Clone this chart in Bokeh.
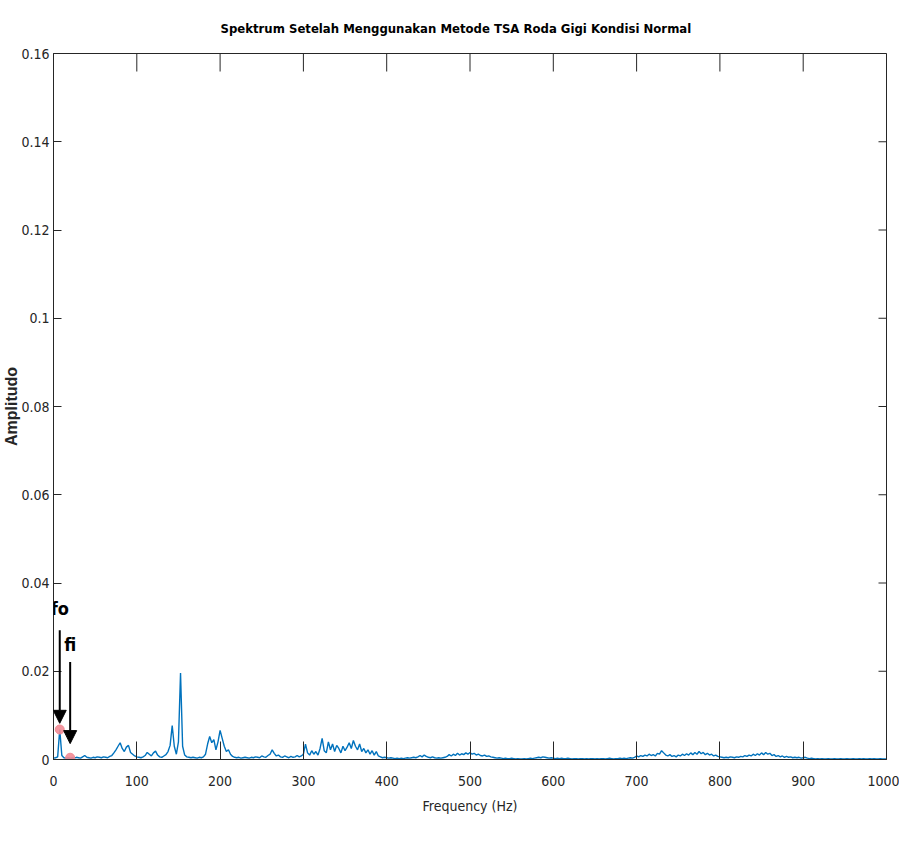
from bokeh.plotting import figure
from bokeh.models import Range1d, FixedTicker, Arrow, NormalHead, Label, ColumnDataSource
from bokeh.embed import file_html
from bokeh.resources import INLINE

# ---------------- data ----------------
freq_step = 2.5  # Hz, spectrum bin spacing

amp_000 = [0.0003, 0.0004, 0.0006, 0.0068, 0.0009, 0.0004, 0.0003, 0.0004, 0.0003, 0.0004,
           0.0003, 0.0005, 0.0004, 0.0003, 0.0006, 0.0009, 0.0005, 0.0004, 0.0003, 0.0005,
           0.0004, 0.0006, 0.0005, 0.0004, 0.0006, 0.0005, 0.0004, 0.0007, 0.0009, 0.0015,
           0.0022, 0.0030, 0.0038, 0.0025, 0.0018, 0.0028, 0.0032, 0.0016, 0.0012, 0.0008]
amp_100 = [0.0006, 0.0005, 0.0004, 0.0006, 0.0009, 0.0016, 0.0012, 0.0008, 0.0015, 0.0019,
           0.0010, 0.0006, 0.0005, 0.0008, 0.0011, 0.0018, 0.0032, 0.0077, 0.0030, 0.0012,
           0.0040, 0.0196, 0.0030, 0.0010, 0.0006, 0.0005, 0.0004, 0.0005, 0.0004, 0.0003,
           0.0005, 0.0004, 0.0006, 0.0012, 0.0035, 0.0052, 0.0038, 0.0045, 0.0022, 0.0040]
amp_200 = [0.0066, 0.0048, 0.0030, 0.0018, 0.0022, 0.0012, 0.0007, 0.0005, 0.0004, 0.0005,
           0.0003, 0.0004, 0.0005, 0.0004, 0.0003, 0.0005, 0.0004, 0.0006, 0.0005, 0.0004,
           0.0008, 0.0006, 0.0005, 0.0009, 0.0012, 0.0022, 0.0014, 0.0008, 0.0010, 0.0006,
           0.0005, 0.0008, 0.0006, 0.0004, 0.0007, 0.0005, 0.0006, 0.0009, 0.0006, 0.0008]
amp_300 = [0.0012, 0.0035, 0.0015, 0.0010, 0.0020, 0.0012, 0.0018, 0.0010, 0.0025, 0.0048,
           0.0020, 0.0015, 0.0040, 0.0022, 0.0035, 0.0018, 0.0032, 0.0025, 0.0015, 0.0030,
           0.0020, 0.0028, 0.0038, 0.0025, 0.0043, 0.0030, 0.0022, 0.0035, 0.0018, 0.0025,
           0.0015, 0.0022, 0.0012, 0.0020, 0.0010, 0.0018, 0.0008, 0.0006, 0.0004, 0.0005]
amp_400 = [0.0004, 0.0003, 0.0004, 0.0003, 0.0002, 0.0003, 0.0002, 0.0003, 0.0002, 0.0003,
           0.0004, 0.0003, 0.0004, 0.0005, 0.0004, 0.0006, 0.0009, 0.0006, 0.0010, 0.0007,
           0.0005, 0.0004, 0.0006, 0.0004, 0.0003, 0.0004, 0.0003, 0.0004, 0.0005, 0.0007,
           0.0011, 0.0008, 0.0012, 0.0009, 0.0014, 0.0010, 0.0013, 0.0011, 0.0015, 0.0012]
amp_500 = [0.0016, 0.0012, 0.0014, 0.0010, 0.0012, 0.0009, 0.0008, 0.0010, 0.0007, 0.0008,
           0.0006, 0.0005, 0.0004, 0.0003, 0.0004, 0.0003, 0.0002, 0.0003, 0.0002, 0.0002,
           0.0003, 0.0002, 0.0001, 0.0002, 0.0001, 0.0001, 0.0002, 0.0001, 0.0002, 0.0003,
           0.0002, 0.0003, 0.0004, 0.0005, 0.0004, 0.0006, 0.0005, 0.0004, 0.0003, 0.0004]
amp_600 = [0.0003, 0.0002, 0.0003, 0.0002, 0.0003, 0.0002, 0.0002, 0.0003, 0.0002, 0.0001,
           0.0002, 0.0002, 0.0001, 0.0002, 0.0002, 0.0001, 0.0002, 0.0001, 0.0002, 0.0002,
           0.0001, 0.0002, 0.0001, 0.0002, 0.0002, 0.0001, 0.0002, 0.0003, 0.0002, 0.0001,
           0.0002, 0.0002, 0.0003, 0.0002, 0.0003, 0.0002, 0.0003, 0.0004, 0.0003, 0.0005]
amp_700 = [0.0008, 0.0006, 0.0009, 0.0007, 0.0010, 0.0008, 0.0012, 0.0009, 0.0011, 0.0008,
           0.0014, 0.0012, 0.0020, 0.0015, 0.0010, 0.0008, 0.0011, 0.0007, 0.0009, 0.0006,
           0.0010, 0.0008, 0.0012, 0.0009, 0.0013, 0.0010, 0.0015, 0.0011, 0.0016, 0.0012,
           0.0018, 0.0013, 0.0016, 0.0011, 0.0014, 0.0010, 0.0012, 0.0008, 0.0010, 0.0007]
amp_800 = [0.0006, 0.0005, 0.0004, 0.0005, 0.0004, 0.0006, 0.0005, 0.0004, 0.0006, 0.0005,
           0.0007, 0.0006, 0.0009, 0.0007, 0.0010, 0.0008, 0.0012, 0.0009, 0.0013, 0.0010,
           0.0015, 0.0011, 0.0016, 0.0012, 0.0014, 0.0009, 0.0011, 0.0007, 0.0009, 0.0006,
           0.0008, 0.0005, 0.0007, 0.0005, 0.0006, 0.0004, 0.0005, 0.0004, 0.0005, 0.0003]
amp_900 = [0.0004, 0.0005, 0.0003, 0.0002, 0.0003, 0.0002, 0.0001, 0.0002, 0.0001, 0.0002,
           0.0001, 0.0001, 0.0002, 0.0001, 0.0001, 0.0002, 0.0001, 0.0001, 0.0002, 0.0001,
           0.0001, 0.0002, 0.0001, 0.0001, 0.0002, 0.0001, 0.0001, 0.0002, 0.0001, 0.0002,
           0.0001, 0.0001, 0.0002, 0.0001, 0.0002, 0.0001, 0.0001, 0.0002, 0.0001, 0.0001,
           0.0001]

amp = amp_000 + amp_100 + amp_200 + amp_300 + amp_400 + amp_500 + amp_600 + amp_700 + amp_800 + amp_900
freq = [round(i * freq_step, 2) for i in range(len(amp))]

marker_names = ["fo", "fi"]
marker_freq = [7.5, 20.0]
marker_amp = [0.0068, 0.0004]

x_ticks = [0, 100, 200, 300, 400, 500, 600, 700, 800, 900, 1000]
y_ticks = [0, 0.02, 0.04, 0.06, 0.08, 0.1, 0.12, 0.14, 0.16]
y_tick_labels = ["0", "0.02", "0.04", "0.06", "0.08", "0.1", "0.12", "0.14", "0.16"]

title_text = "Spektrum Setelah Menggunakan Metode TSA Roda Gigi Kondisi Normal"
x_label = "Frequency (Hz)"
y_label = "Amplitudo"

# ---------------- style ----------------
NARROW = "Liberation Sans Narrow, DejaVu Sans Condensed, sans-serif"
AX = "#262626"
W, H = 899, 846
BL, BR, BT, BB = 53, 13, 53, 87
X0, X1, Y0, Y1 = 0, 1000, 0, 0.16
TICK_X, TICK_Y = 18, 8  # px

p = figure(width=W, height=H, output_backend="svg", toolbar_location=None,
           x_range=Range1d(X0, X1), y_range=Range1d(Y0, Y1),
           min_border_left=BL, min_border_right=BR, min_border_top=BT, min_border_bottom=BB,
           title=title_text, x_axis_label=x_label, y_axis_label=y_label)
p.background_fill_color = "white"
p.border_fill_color = "white"
p.grid.visible = False
p.outline_line_color = AX
p.outline_line_width = 1

p.title.text_font = NARROW
p.title.text_font_size = "13px"
p.title.text_font_style = "bold"
p.title.text_color = "black"
p.title.align = "left"
p.title.offset = 167
p.title.vertical_align = "top"
p.title.standoff = 32

for ax in (p.xaxis[0], p.yaxis[0]):
    ax.axis_line_color = AX
    ax.major_tick_line_color = AX
    ax.minor_tick_line_color = None
    ax.major_tick_out = 0
    ax.major_label_text_font = NARROW
    ax.major_label_text_font_size = "14px"
    ax.major_label_text_color = AX
    ax.axis_label_text_color = AX

p.xaxis[0].ticker = FixedTicker(ticks=x_ticks)
p.xaxis[0].major_tick_in = TICK_X
p.xaxis[0].major_label_standoff = 16
p.xaxis[0].axis_label_text_font = NARROW
p.xaxis[0].axis_label_text_font_size = "14px"
p.xaxis[0].axis_label_text_font_style = "normal"
p.xaxis[0].axis_label_standoff = 9

p.yaxis[0].ticker = FixedTicker(ticks=y_ticks)
p.yaxis[0].major_label_overrides = {t: s for t, s in zip(y_ticks, y_tick_labels)}
p.yaxis[0].major_tick_in = TICK_Y
p.yaxis[0].major_label_standoff = 4
p.yaxis[0].axis_label_text_font = "Liberation Sans, Arial, sans-serif"
p.yaxis[0].axis_label_text_font_size = "16px"
p.yaxis[0].axis_label_text_font_style = "bold"
p.yaxis[0].axis_label_standoff = -2

# inward ticks on the top and right edges of the box (MATLAB "box on")
frame_w = W - BL - BR
frame_h = H - BT - BB
dy = TICK_X * (Y1 - Y0) / frame_h
dx = TICK_Y * (X1 - X0) / frame_w
p.segment(x0=x_ticks, y0=[Y1] * len(x_ticks), x1=x_ticks, y1=[Y1 - dy] * len(x_ticks),
          line_color=AX, line_width=1)
p.segment(x0=[X1] * len(y_ticks), y0=y_ticks, x1=[X1 - dx] * len(y_ticks), y1=y_ticks,
          line_color=AX, line_width=1)

src = ColumnDataSource(dict(f=freq, a=amp))
p.line("f", "a", source=src, line_color="#0072BD", line_width=1.4)

msrc = ColumnDataSource(dict(f=marker_freq, a=marker_amp))
p.scatter("f", "a", source=msrc, size=9, fill_color="#F28B95", line_color="#F28B95", fill_alpha=0.9)

# annotation arrows (start height above marker, gap of tip above marker)
arrow_top = [0.0225, 0.0217]
arrow_gap = [0.0014, 0.0032]
label_rise = [0.0275, 0.0257]
for name, f, a, top, gap, rise in zip(marker_names, marker_freq, marker_amp, arrow_top, arrow_gap, label_rise):
    p.add_layout(Arrow(end=NormalHead(size=13, fill_color="black", line_color="black"),
                       x_start=f, y_start=a + top, x_end=f, y_end=a + gap,
                       line_color="black", line_width=2))
    p.add_layout(Label(x=f, y=a + rise, text=name, text_font=NARROW, text_font_size="18px",
                       text_font_style="bold", text_color="black",
                       text_align="center", text_baseline="middle"))

open("out.html", "w").write(file_html(p, INLINE))
